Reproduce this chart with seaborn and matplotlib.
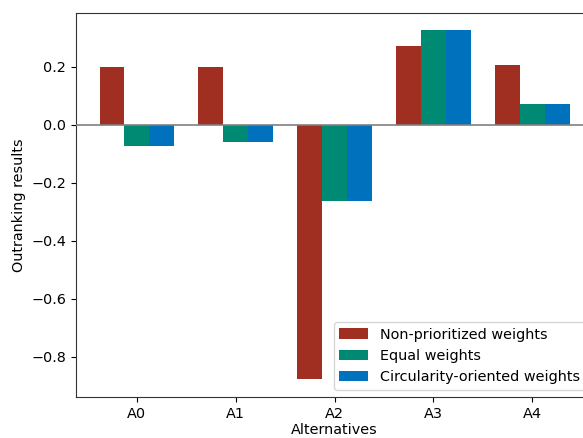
import pandas as pd
import seaborn as sns
import matplotlib.pyplot as plt

# data
alternatives = ["A0", "A1", "A2", "A3", "A4"]
non_prioritized = [0.200, 0.200, -0.876, 0.272, 0.206]
equal = [-0.072, -0.058, -0.262, 0.328, 0.072]
circularity = [-0.072, -0.058, -0.262, 0.328, 0.072]

series = ["Non-prioritized weights", "Equal weights", "Circularity-oriented weights"]
palette = {
    "Non-prioritized weights": "#A12F21",
    "Equal weights": "#008A74",
    "Circularity-oriented weights": "#0072BD",
}

df = pd.DataFrame({
    "Alternatives": alternatives * 3,
    "value": non_prioritized + equal + circularity,
    "weights": [s for s in series for _ in alternatives],
})

plt.rcParams["font.family"] = ["DejaVu Sans"]
fs = 10.4

fig = plt.figure(figsize=(5.83, 4.38), dpi=100)
ax = fig.add_axes([76 / 583, 41 / 438, 517 / 583, 384 / 438])

sns.barplot(
    data=df,
    x="Alternatives",
    y="value",
    hue="weights",
    palette=palette,
    width=0.75,
    saturation=1,
    edgecolor="none",
    ax=ax,
)

ax.axhline(0, color="gray", linewidth=1.2, zorder=3)
ax.set_ylim(-0.938, 0.386)
ax.set_xlim(-0.6125, 4.6125)
ax.set_yticks([0.2, 0.0, -0.2, -0.4, -0.6, -0.8])
ax.set_ylabel("Outranking results", fontsize=fs)
ax.set_xlabel("Alternatives", fontsize=fs, labelpad=2)
ax.tick_params(labelsize=fs)
for s in ax.spines.values():
    s.set_color("#333333")

ax.legend(loc="lower right", fontsize=fs, title=None, borderaxespad=0.5)

plt.savefig("out.png", dpi=100)
